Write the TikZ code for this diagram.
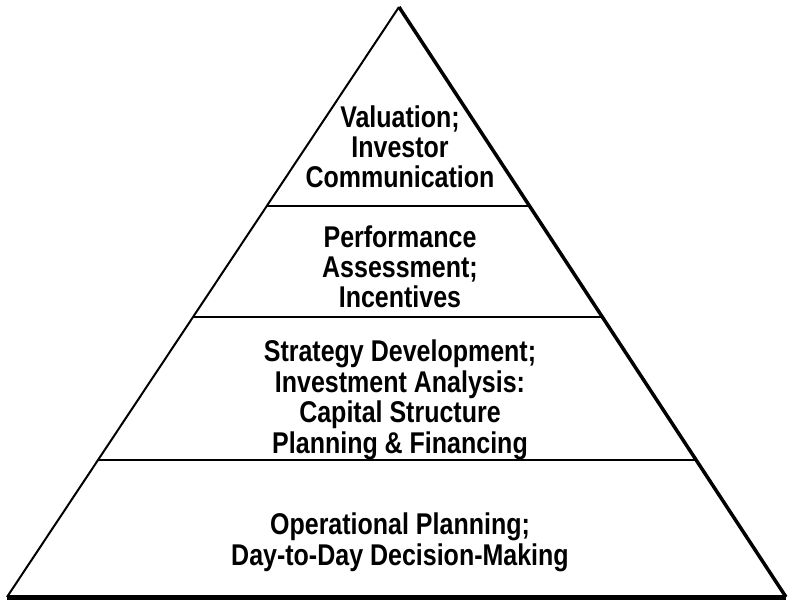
\documentclass[tikz,border=0pt]{standalone}
\usepackage{fontspec}
\setmainfont{Liberation Sans}
\usetikzlibrary{calc}
\newcommand\tallstack[1]{\scalebox{1}[1.2]{\begin{tabular}{@{}c@{}}#1\end{tabular}}}
\begin{document}
\begin{tikzpicture}[x=1pt,y=-1pt,
    tier/.style={inner sep=0pt,anchor=north,font=\bfseries\fontsize{25}{24}\selectfont}]
  \useasboundingbox (0,0) rectangle (788,600);
  \coordinate (apex) at (399,7);
  \coordinate (bl) at (7,597);
  \coordinate (br) at (786,597);
  \draw[line width=2pt] (bl) -- (apex);
  \draw[line width=3.5pt] (apex) -- (br);
  \draw[line width=5pt] (bl) -- (br);
  \foreach \f/\n in {0.337/a, 0.525/b, 0.768/c}{
    \draw[line width=1.6pt] ($(apex)!\f!(bl)$) coordinate (l\n) -- ($(apex)!\f!(br)$) coordinate (r\n);
  }
  \node[tier] (valuation) at (400,106) {\tallstack{Valuation;\\Investor\\Communication}};
  \node[tier] (performance) at (400,226) {\tallstack{Performance\\Assessment;\\Incentives}};
  \node[tier] (strategy) at (400,340) {\tallstack{Strategy Development;\\Investment Analysis:\\Capital Structure\\Planning \& Financing}};
  \node[tier] (operational) at (400,513) {\tallstack{Operational Planning;\\Day-to-Day Decision-Making}};
\end{tikzpicture}
\end{document}
